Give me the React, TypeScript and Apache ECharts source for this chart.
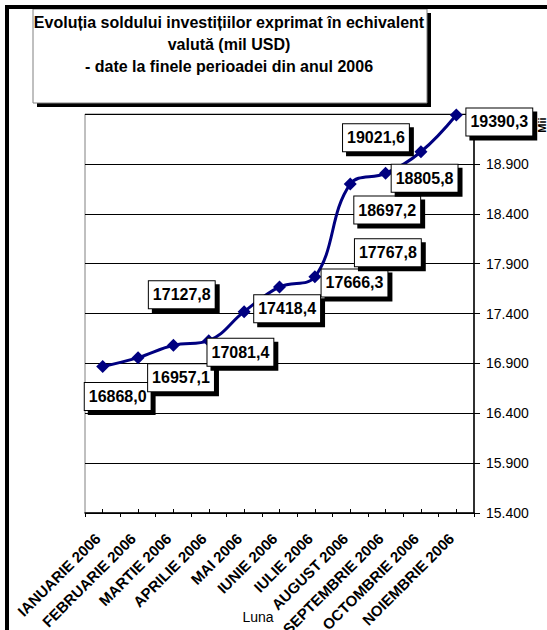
import React, { useEffect, useRef } from "react";
import * as echarts from "echarts";

const categories = [
  "IANUARIE 2006",
  "FEBRUARIE 2006",
  "MARTIE 2006",
  "APRILIE 2006",
  "MAI 2006",
  "IUNIE 2006",
  "IULIE 2006",
  "AUGUST 2006",
  "SEPTEMBRIE 2006",
  "OCTOMBRIE 2006",
  "NOIEMBRIE 2006",
];
const values = [16868.0, 16957.1, 17081.4, 17127.8, 17418.4, 17666.3, 17767.8, 18697.2, 18805.8, 19021.6, 19390.3];
const yMin = 15400;
const yMax = 19400;
const yStep = 500;
const titleLines = [
  "Evoluția soldului investițiilor exprimat în echivalent",
  "valută (mil USD)",
  "- date la finele perioadei din anul 2006",
];
const xName = "Luna";
const yName = "Mii";

// label offsets from their point (style only)
const labelOffsets = [
  [15, 30], [43, 20], [67, 7], [-27, -46], [43, -3], [75, -4],
  [73, -24], [37, 26], [39, 5], [-45, -14], [43, 7],
];

const FONT = "'Liberation Sans', Arial, sans-serif";
const SYMBOL = 13;

const fmtComma = (v: number) => v.toFixed(1).replace(".", ",");
const fmtThousands = (v: number) => String(Math.round(v)).replace(/\B(?=(\d{3})+(?!\d))/g, ".");

export default function App() {
  const ref = useRef<HTMLDivElement>(null);
  useEffect(() => {
    if (!ref.current) return;
    const chart = echarts.init(ref.current, null, { renderer: "svg" });
    const option: any = {
      animation: false,
      backgroundColor: "#fff",
      title: {
        text: titleLines.join("\n"),
        left: 229,
        top: 11,
        padding: 0,
        textAlign: "center",
        textStyle: {
          fontFamily: FONT,
          fontSize: 16,
          fontWeight: "bold",
          color: "#000",
          lineHeight: 22,
        },
        z: 10,
      },
      grid: {
        left: 85,
        right: 73,
        top: 114,
        bottom: 117,
        containLabel: false,
        outerBoundsMode: "none",
        show: true,
        borderColor: "#808080",
        borderWidth: 1,
        backgroundColor: "transparent",
      },
      xAxis: [
        {
          type: "category",
          data: categories,
          boundaryGap: true,
          axisLine: { show: true, lineStyle: { color: "#000", width: 1.5 } },
          axisTick: { show: true, alignWithLabel: false, length: 4, lineStyle: { color: "#000" } },
          axisLabel: {
            interval: 0,
            rotate: 45,
            margin: 18,
            padding: [0, 7, 0, 0],
            fontFamily: FONT,
            fontSize: 15,
            fontWeight: "bold",
            color: "#000",
          },
          splitLine: { show: false },
        },
        {
          type: "category",
          data: categories,
          boundaryGap: true,
          position: "bottom",
          axisLine: { show: false },
          axisTick: { show: true, alignWithLabel: true, inside: true, length: 4, interval: 0, lineStyle: { color: "#000" } },
          axisLabel: { show: false },
          splitLine: { show: false },
        },
      ],
      yAxis: {
        type: "value",
        position: "right",
        min: yMin,
        max: yMax,
        interval: yStep,
        axisLine: { show: true, lineStyle: { color: "#000", width: 1.5 } },
        axisTick: { show: true, length: 6, lineStyle: { color: "#000" } },
        axisLabel: {
          margin: 12,
          fontFamily: FONT,
          fontSize: 14,
          color: "#000",
          formatter: (v: number) => fmtThousands(v),
        },
        splitLine: { show: true, lineStyle: { color: "#000", width: 1 } },
      },
      series: [
        {
          type: "line",
          data: values.map((v, i) => ({
            value: v,
            label: {
              position: [SYMBOL / 2 + labelOffsets[i][0], SYMBOL / 2 + labelOffsets[i][1]],
            },
          })),
          smooth: 0.4,
          symbol: "diamond",
          symbolSize: SYMBOL,
          itemStyle: { color: "#000080" },
          lineStyle: { color: "#000080", width: 3 },
          z: 5,
          label: {
            show: true,
            align: "center",
            verticalAlign: "middle",
            formatter: (p: any) => fmtComma(p.value),
            fontFamily: FONT,
            fontSize: 16,
            fontWeight: "bold",
            color: "#000",
            backgroundColor: "#fff",
            borderColor: "#000",
            borderWidth: 1,
            padding: [6, 4, 5, 4],
            shadowColor: "#000",
            shadowBlur: 0,
            shadowOffsetX: 4,
            shadowOffsetY: 4,
          },
          labelLayout: { hideOverlap: false },
        },
      ],
      graphic: [
        {
          type: "rect",
          z: 100,
          shape: { x: 7, y: 7, width: 700, height: 800 },
          style: { fill: "none", stroke: "#000", lineWidth: 4 },
        },
        {
          type: "rect",
          z: 1,
          shape: { x: 37, y: 13, width: 394, height: 94 },
          style: { fill: "#000" },
        },
        {
          type: "rect",
          z: 2,
          shape: { x: 33, y: 9, width: 394, height: 94 },
          style: { fill: "#fff", stroke: "#808080", lineWidth: 1 },
        },
        {
          type: "text",
          z: 10,
          x: 258,
          y: 617,
          style: {
            text: xName,
            fontFamily: FONT,
            fontSize: 14,
            fill: "#000",
            align: "center",
            verticalAlign: "middle",
          },
        },
        {
          type: "text",
          z: 10,
          x: 542,
          y: 125,
          rotation: Math.PI / 2,
          style: {
            text: yName,
            fontFamily: FONT,
            fontSize: 11,
            fontWeight: "bold",
            fill: "#000",
            align: "center",
            verticalAlign: "middle",
          },
        },
      ],
    };
    chart.setOption(option);
    return () => chart.dispose();
  }, []);
  return (
    <div
      ref={ref}
      style={{ position: "fixed", left: 0, top: 0, width: 547, height: 630 }}
    />
  );
}
